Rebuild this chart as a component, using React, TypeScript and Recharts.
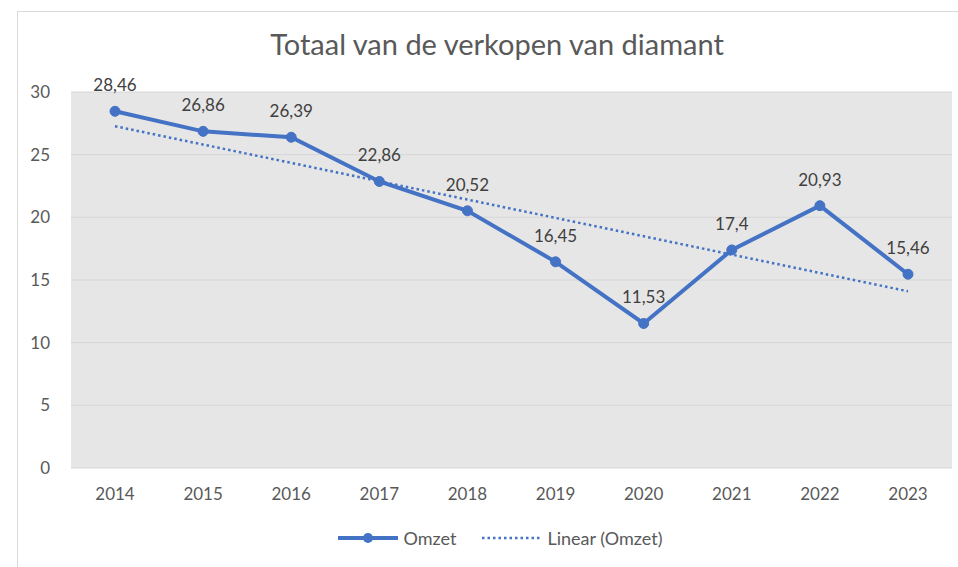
import React from 'react';
import { LineChart, Line, XAxis, YAxis, CartesianGrid, Legend, LabelList } from 'recharts';

const years = ['2014', '2015', '2016', '2017', '2018', '2019', '2020', '2021', '2022', '2023'];
const omzet = [28.46, 26.86, 26.39, 22.86, 20.52, 16.45, 11.53, 17.4, 20.93, 15.46];
// Linear trendline endpoints
const trend = [27.27, null, null, null, null, null, null, null, null, 14.1];
const yTicks = [0, 5, 10, 15, 20, 25, 30];

const data = years.map((y, i) => ({ year: y, Omzet: omzet[i], trend: trend[i] }));

const FONT = 'Lato, "Open Sans", sans-serif';
const BLUE = '#4472C4';

const fmt = (v: any) => String(v).replace('.', ',');

const LegendContent = (props: any) => {
  const payload = [...(props.payload || [])].sort((a: any, b: any) =>
    (a.dataKey === 'trend' ? 1 : 0) - (b.dataKey === 'trend' ? 1 : 0)
  );
  return (
    <div style={{ display: 'flex', justifyContent: 'center', alignItems: 'center', fontFamily: FONT, fontSize: 18, color: '#595959' }}>
      {payload.map((p: any, i: number) => (
        <div key={i} style={{ display: 'flex', alignItems: 'center', marginLeft: i === 0 ? 0 : 25 }}>
          <svg width={60} height={12} style={{ marginRight: 6 }}>
            {p.dataKey === 'trend' ? (
              <line x1={1} y1={6} x2={59} y2={6} stroke={BLUE} strokeWidth={2.5} strokeDasharray="2.5 3" />
            ) : (
              <g>
                <line x1={0} y1={6} x2={60} y2={6} stroke={BLUE} strokeWidth={4} strokeLinecap="round" />
                <circle cx={30} cy={6} r={5} fill={BLUE} />
              </g>
            )}
          </svg>
          <span>{p.value}</span>
        </div>
      ))}
    </div>
  );
};

export default function App() {
  return (
    <div style={{ position: 'absolute', left: 0, top: 0, width: 958, height: 567, overflow: 'hidden', background: '#fff' }}>
      <div style={{ position: 'absolute', left: 17, top: 11, width: 1000, height: 600, border: '1px solid #d9d9d9' }} />
      <div style={{ position: 'absolute', left: 0, top: 26, width: 994, textAlign: 'center', fontFamily: FONT, fontSize: 29, color: '#595959' }}>
        Totaal van de verkopen van diamant
      </div>
      <div style={{ position: 'absolute', left: 0, top: 0 }}>
        <LineChart width={958} height={567} data={data} margin={{ top: 92, right: 6, bottom: 69, left: 0 }}>
          <CartesianGrid vertical={false} fill="#e7e6e6" stroke="#d6d6d6" fillOpacity={1} />
          <XAxis
            dataKey="year"
            axisLine={false}
            tickLine={false}
            tickMargin={14}
            padding={{ left: 44, right: 44 }}
            tick={{ fill: '#595959', fontSize: 17, fontFamily: FONT }}
          />
          <YAxis
            width={71}
            domain={[0, 30]}
            ticks={yTicks}
            axisLine={false}
            tickLine={false}
            tickMargin={15}
            tick={{ fill: '#595959', fontSize: 17, fontFamily: FONT }}
          />
          <Line
            dataKey="Omzet"
            name="Omzet"
            stroke={BLUE}
            strokeWidth={4}
            dot={{ r: 5, fill: BLUE, stroke: BLUE, strokeWidth: 1 }}
            isAnimationActive={false}
          >
            <LabelList dataKey="Omzet" position="top" offset={20} formatter={fmt} fill="#404040" fontSize={17} fontFamily={FONT} />
          </Line>
          <Line
            dataKey="trend"
            name="Linear (Omzet)"
            stroke={BLUE}
            strokeWidth={2.5}
            strokeDasharray="2.5 3"
            dot={false}
            connectNulls
            isAnimationActive={false}
          />
          <Legend
            verticalAlign="middle"
            align="center"
            wrapperStyle={{ top: 527, left: 0, width: 1000 }}
            content={<LegendContent />}
          />
        </LineChart>
      </div>
    </div>
  );
}
